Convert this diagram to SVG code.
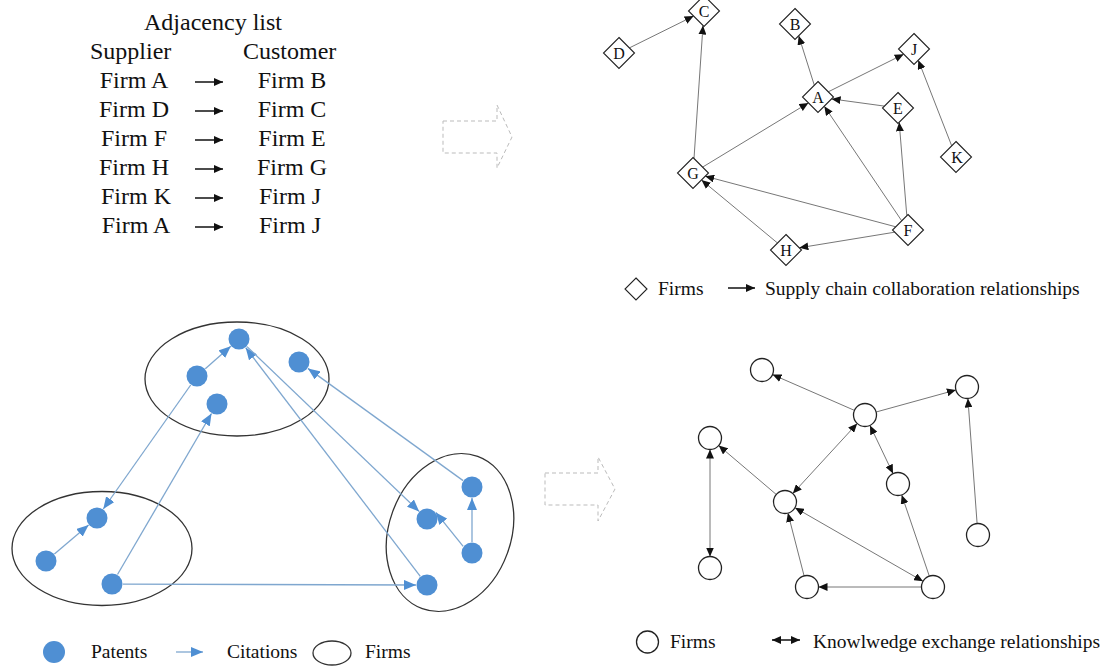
<svg xmlns="http://www.w3.org/2000/svg" width="1118" height="669" viewBox="0 0 1118 669">
<style>
text{font-family:"Liberation Serif","Times New Roman",serif;fill:#111}
.adj{font-size:24px}
.lbl{font-size:16px;text-anchor:middle}
.leg{font-size:19.5px}
.dia{fill:#fff;stroke:#222;stroke-width:1.1}
.fc{fill:#fff;stroke:#222;stroke-width:1.3}
.gl{stroke:#777;stroke-width:1;fill:none}
.bl{stroke:#7fa7cf;stroke-width:1.3;fill:none}
.pat{fill:#4f8fd3}
.firm{fill:none;stroke:#333;stroke-width:1.3}
.dash{fill:none;stroke:#bbb;stroke-width:1;stroke-dasharray:4 3}
.ka{stroke:#111;stroke-width:1.5;fill:none}
</style>
<defs>
<marker id="ab" markerUnits="userSpaceOnUse" markerWidth="9" markerHeight="8" refX="9" refY="4" orient="auto-start-reverse"><path d="M0,0 L9,4 L0,8 z" fill="#111"/></marker>
<marker id="au" markerUnits="userSpaceOnUse" markerWidth="12" markerHeight="10" refX="12" refY="5" orient="auto"><path d="M0,0 L12,5 L0,10 z" fill="#4f8fd3"/></marker>
</defs>

<!-- Adjacency list -->
<g id="adjacency">
<text class="adj" x="213" y="30" text-anchor="middle">Adjacency list</text>
<text class="adj" x="90" y="59">Supplier</text>
<text class="adj" x="243" y="59">Customer</text>
<g text-anchor="middle" class="adj">
<text x="134" y="88">Firm A</text><text x="292" y="88">Firm B</text>
<text x="134" y="117">Firm D</text><text x="292" y="117">Firm C</text>
<text x="134" y="146">Firm F</text><text x="292" y="146">Firm E</text>
<text x="134" y="175">Firm H</text><text x="292" y="175">Firm G</text>
<text x="136" y="204">Firm K</text><text x="290" y="204">Firm J</text>
<text x="136" y="233">Firm A</text><text x="290" y="233">Firm J</text>
</g>
<g class="ka" marker-end="url(#ab)">
<line x1="195" y1="82" x2="223" y2="82"/>
<line x1="195" y1="111" x2="223" y2="111"/>
<line x1="195" y1="140" x2="223" y2="140"/>
<line x1="195" y1="169" x2="223" y2="169"/>
<line x1="195" y1="198" x2="223" y2="198"/>
<line x1="195" y1="227" x2="223" y2="227"/>
</g>
</g>

<!-- dashed transition arrows -->
<g id="transition-arrows">
<polygon class="dash" points="443,121 497,121 497,105 512,137 497,168 497,153 443,153"/>
<polygon class="dash" points="545,473 598,473 598,457 615,489 598,521 598,505 545,505"/>
</g>

<!-- Supply chain network connectors -->
<g id="supply-connectors" class="gl" marker-end="url(#ab)">
<line x1="629.4" y1="47.9" x2="693.6" y2="16.1"/>
<line x1="694.0" y1="158.5" x2="703.0" y2="25.5"/>
<line x1="814.3" y1="85.2" x2="798.7" y2="35.8"/>
<line x1="828.3" y1="91.8" x2="903.7" y2="54.2"/>
<line x1="951.7" y1="145.8" x2="918.3" y2="60.2"/>
<line x1="884.4" y1="106.1" x2="831.6" y2="98.9"/>
<line x1="702.6" y1="167.1" x2="808.4" y2="102.9"/>
<line x1="901.7" y1="220.8" x2="824.3" y2="106.2"/>
<line x1="906.8" y1="215.7" x2="899.2" y2="122.3"/>
<line x1="895.8" y1="226.8" x2="705.2" y2="176.2"/>
<line x1="777.5" y1="243.0" x2="701.5" y2="180.0"/>
<line x1="894.7" y1="232.2" x2="799.3" y2="247.8"/>
</g>
<g id="firm-C"><polygon class="dia" points="704,-4.5 719.5,11 704,26.5 688.5,11"/><text class="lbl" x="704" y="16.5">C</text></g>
<g id="firm-D"><polygon class="dia" points="619,37.5 634.5,53 619,68.5 603.5,53"/><text class="lbl" x="619" y="58.5">D</text></g>
<g id="firm-B"><polygon class="dia" points="795,8.5 810.5,24 795,39.5 779.5,24"/><text class="lbl" x="795" y="29.5">B</text></g>
<g id="firm-J"><polygon class="dia" points="914,33.5 929.5,49 914,64.5 898.5,49"/><text class="lbl" x="914" y="54.5">J</text></g>
<g id="firm-A"><polygon class="dia" points="818,81.5 833.5,97 818,112.5 802.5,97"/><text class="lbl" x="818" y="102.5">A</text></g>
<g id="firm-E"><polygon class="dia" points="898,92.5 913.5,108 898,123.5 882.5,108"/><text class="lbl" x="898" y="113.5">E</text></g>
<g id="firm-K"><polygon class="dia" points="956,141.5 971.5,157 956,172.5 940.5,157"/><text class="lbl" x="957" y="162.5">K</text></g>
<g id="firm-G"><polygon class="dia" points="693,157.5 708.5,173 693,188.5 677.5,173"/><text class="lbl" x="693" y="178.5">G</text></g>
<g id="firm-F"><polygon class="dia" points="908,214.5 923.5,230 908,245.5 892.5,230"/><text class="lbl" x="908" y="235.5">F</text></g>
<g id="firm-H"><polygon class="dia" points="786,234.5 801.5,250 786,265.5 770.5,250"/><text class="lbl" x="786" y="255.5">H</text></g>

<!-- legend top right -->
<g id="legend-supply">
<polygon class="dia" points="636,278 647,289 636,300 625,289"/>
<text class="leg" x="658" y="295">Firms</text>
<line class="ka" x1="728" y1="288" x2="755" y2="288" stroke-width="1.2" marker-end="url(#ab)"/>
<text class="leg" x="765" y="295">Supply chain collaboration relationships</text>
</g>

<!-- Patent citation network -->
<g id="firm-ellipses">
<ellipse class="firm" cx="237" cy="379" rx="92" ry="57"/>
<ellipse class="firm" cx="102" cy="548.5" rx="90" ry="57"/>
<ellipse class="firm" cx="450" cy="532.5" rx="61" ry="81" transform="rotate(20 450 532.5)"/>
</g>
<g id="citation-connectors" class="bl" marker-end="url(#au)">
<line x1="205.3" y1="368.7" x2="230.8" y2="346.3"/>
<line x1="190.7" y1="385.0" x2="103.3" y2="509.0"/>
<line x1="117.5" y1="574.5" x2="211.5" y2="413.5"/>
<line x1="54.4" y1="553.9" x2="88.6" y2="525.1"/>
<line x1="123" y1="584.1" x2="416" y2="585"/>
<line x1="420.3" y1="576.3" x2="245.7" y2="347.7"/>
<line x1="247.0" y1="346.6" x2="419.1" y2="511.4"/>
<line x1="463.1" y1="480.6" x2="307.9" y2="368.4"/>
<line x1="472" y1="542" x2="472" y2="498"/>
<line x1="463.2" y1="546.4" x2="435.8" y2="512.4"/>
</g>
<g id="patents">
<circle id="p1" class="pat" cx="239" cy="339" r="10.5"/>
<circle id="p2" class="pat" cx="197" cy="376" r="10.5"/>
<circle id="p3" class="pat" cx="217" cy="404" r="10.5"/>
<circle id="p4" class="pat" cx="299" cy="362" r="10.5"/>
<circle id="p5" class="pat" cx="97" cy="518" r="10.5"/>
<circle id="p6" class="pat" cx="46" cy="561" r="10.5"/>
<circle id="p7" class="pat" cx="112" cy="584" r="10.5"/>
<circle id="p8" class="pat" cx="472" cy="487" r="10.5"/>
<circle id="p9" class="pat" cx="427" cy="519" r="10.5"/>
<circle id="p10" class="pat" cx="472" cy="553" r="10.5"/>
<circle id="p11" class="pat" cx="427" cy="585" r="10.5"/>
</g>

<!-- legend bottom left -->
<g id="legend-citation">
<circle class="pat" cx="54" cy="652" r="11"/>
<text class="leg" x="91" y="658" font-size="20">Patents</text>
<line class="bl" x1="176" y1="652" x2="203" y2="652" marker-end="url(#au)"/>
<text class="leg" x="227" y="658">Citations</text>
<ellipse class="firm" cx="332" cy="653" rx="19" ry="12"/>
<text class="leg" x="365" y="658">Firms</text>
</g>

<!-- Knowledge exchange network -->
<g id="knowledge-connectors" class="gl">
<line x1="854.5" y1="410.4" x2="772.5" y2="374.6" marker-end="url(#ab)"/>
<line x1="876.1" y1="412.0" x2="955.9" y2="390.0" marker-end="url(#ab)"/>
<line x1="977.1" y1="523.5" x2="967.9" y2="398.5" marker-end="url(#ab)"/>
<line x1="857.2" y1="423.5" x2="792.8" y2="493.5" marker-start="url(#ab)" marker-end="url(#ab)"/>
<line x1="870.0" y1="425.4" x2="893.0" y2="473.6" marker-start="url(#ab)" marker-end="url(#ab)"/>
<line x1="710" y1="449.5" x2="710" y2="556.5" marker-start="url(#ab)" marker-end="url(#ab)"/>
<line x1="776.3" y1="494.5" x2="718.7" y2="445.5" marker-end="url(#ab)"/>
<line x1="923.0" y1="581.3" x2="795.0" y2="507.7" marker-start="url(#ab)" marker-end="url(#ab)"/>
<line x1="804.1" y1="575.9" x2="787.9" y2="513.1" marker-end="url(#ab)"/>
<line x1="921.5" y1="587" x2="818.5" y2="587" marker-end="url(#ab)"/>
<line x1="929.3" y1="576.1" x2="901.7" y2="494.9" marker-end="url(#ab)"/>
</g>
<g id="k-firm-1"><circle class="fc" cx="762" cy="370" r="11.5"/></g>
<g id="k-firm-2"><circle class="fc" cx="967" cy="387" r="11.5"/></g>
<g id="k-firm-3"><circle class="fc" cx="865" cy="415" r="11.5"/></g>
<g id="k-firm-4"><circle class="fc" cx="710" cy="438" r="11.5"/></g>
<g id="k-firm-5"><circle class="fc" cx="898" cy="484" r="11.5"/></g>
<g id="k-firm-6"><circle class="fc" cx="785" cy="502" r="11.5"/></g>
<g id="k-firm-7"><circle class="fc" cx="978" cy="535" r="11.5"/></g>
<g id="k-firm-8"><circle class="fc" cx="710" cy="568" r="11.5"/></g>
<g id="k-firm-9"><circle class="fc" cx="807" cy="587" r="11.5"/></g>
<g id="k-firm-10"><circle class="fc" cx="933" cy="587" r="11.5"/></g>

<!-- legend bottom right -->
<g id="legend-knowledge">
<circle class="fc" cx="647.5" cy="642" r="11"/>
<text class="leg" x="670" y="648">Firms</text>
<line class="ka" x1="772" y1="640" x2="800" y2="640" stroke-width="1.2" marker-start="url(#ab)" marker-end="url(#ab)"/>
<text class="leg" x="813" y="648" font-size="20.5">Knowlwedge exchange relationships</text>
</g>
</svg>
